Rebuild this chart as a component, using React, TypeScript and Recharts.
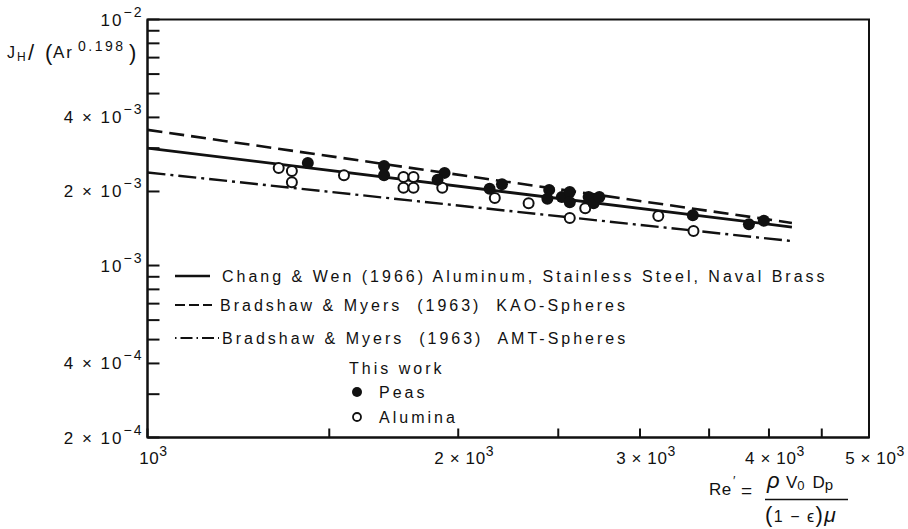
import React from "react";
import { ComposedChart, Line, Scatter, XAxis, YAxis, ReferenceArea, Legend, Label } from "recharts";

const FONT = "'Liberation Sans', Arial, sans-serif";
const INK = "#111";

// correlation lines (straight on log-log), ends
const fitRe = [1000, 4210];
const changWenJ = [3.0e-3, 1.434e-3];
const kaoJ = [3.56e-3, 1.49e-3];
const amtJ = [2.39e-3, 1.257e-3];

// this work
const peasRe = [1430, 1695, 1695, 1940, 1910, 2145, 2205, 2450, 2440, 2520, 2565, 2565, 2675, 2705, 2740, 3375, 3825, 3955];
const peasJ = [2.61e-3, 2.54e-3, 2.33e-3, 2.38e-3, 2.23e-3, 2.05e-3, 2.14e-3, 2.03e-3, 1.87e-3, 1.9e-3, 1.99e-3, 1.81e-3, 1.9e-3, 1.79e-3, 1.9e-3, 1.6e-3, 1.47e-3, 1.52e-3];
const aluminaRe = [1340, 1380, 1380, 1550, 1770, 1810, 1770, 1810, 1930, 2170, 2340, 2655, 2565, 3125, 3380];
const aluminaJ = [2.49e-3, 2.42e-3, 2.18e-3, 2.33e-3, 2.29e-3, 2.29e-3, 2.07e-3, 2.07e-3, 2.07e-3, 1.88e-3, 1.79e-3, 1.71e-3, 1.56e-3, 1.59e-3, 1.38e-3];

const xTicks = [1000, 1500, 2000, 2500, 3000, 3500, 4000, 4500, 5000];
const xTickText: [number, string, string][] = [
  [1000, "", "3"],
  [2000, "2", "3"],
  [3000, "3", "3"],
  [4000, "4", "3"],
  [5000, "5", "3"],
];
const yTicks = [2e-4, 3e-4, 4e-4, 5e-4, 6e-4, 7e-4, 8e-4, 9e-4, 1e-3, 2e-3, 3e-3, 4e-3, 5e-3, 6e-3, 7e-3, 8e-3, 9e-3, 1e-2];
const yTickText: [number, string, string][] = [
  [2e-4, "2", "−4"],
  [4e-4, "4", "−4"],
  [1e-3, "", "−3"],
  [2e-3, "2", "−3"],
  [4e-3, "4", "−3"],
  [1e-2, "", "−2"],
];

const zip = (xs: number[], ys: number[]) => xs.map((x, i) => ({ x, y: ys[i] }));
const findLabel = (list: [number, string, string][], v: number) =>
  list.find(([t]) => Math.abs(t / v - 1) < 1e-6);

function XTick(props: any) {
  const { x, y, payload } = props;
  const lab = findLabel(xTickText, payload.value);
  return (
    <g>
      <line x1={x} x2={x} y1={y} y2={y - 9} stroke={INK} strokeWidth={2} />
      {lab && (
        <text x={x + 6} y={y + 26} textAnchor="middle" fontFamily={FONT} fontSize={17} letterSpacing={0.6} fill={INK}>
          {lab[1] ? `${lab[1]} × 10` : "10"}
          <tspan dy={-8} fontSize={14}>{lab[2]}</tspan>
        </text>
      )}
    </g>
  );
}

function YTick(props: any) {
  const { x, y, payload } = props;
  const lab = findLabel(yTickText, payload.value);
  return (
    <g>
      <line x1={x} x2={x + 12} y1={y} y2={y} stroke={INK} strokeWidth={2} />
      {lab && (
        <text x={x - 4} y={y + 6} textAnchor="end" fontFamily={FONT} fontSize={17} letterSpacing={2} fill={INK}>
          {lab[1] ? `${lab[1]} × 10` : "10"}
          <tspan dy={-9} fontSize={14}>{lab[2]}</tspan>
        </text>
      )}
    </g>
  );
}

function YTitle() {
  return (
    <text y={58} fontFamily={FONT} fontSize={16} fill={INK}>
      <tspan x={7}>J</tspan>
      <tspan x={17} dy={3} fontSize={12}>H</tspan>
      <tspan x={28} dy={-1} fontSize={22}>/</tspan>
      <tspan x={45} fontSize={22}>(</tspan>
      <tspan x={53} dy={-2} fontSize={17} letterSpacing={2}>Ar</tspan>
      <tspan x={78} dy={-7} fontSize={14} letterSpacing={2.5}>0.198</tspan>
      <tspan x={129} dy={9} fontSize={22}>)</tspan>
    </text>
  );
}

function XTitle() {
  return (
    <g fontFamily={FONT} fill={INK}>
      <text x={709} y={495} fontSize={17} letterSpacing={0.5}>Re</text>
      <text x={733} y={485} fontSize={13}>′</text>
      <text x={741} y={497} fontSize={19}>=</text>
      <text x={767} y={488} fontSize={22} fontStyle="italic">ρ</text>
      <text x={786} y={488} fontSize={17}>
        V<tspan fontSize={13} dy={2}>0</tspan>
        <tspan dx={8} dy={-2}>D</tspan>
        <tspan fontSize={15} dy={2}>p</tspan>
      </text>
      <line x1={765} x2={848} y1={499.5} y2={499.5} stroke={INK} strokeWidth={1.6} />
      <text x={765} y={522} fontSize={16} letterSpacing={1.5}>
        <tspan fontSize={22}>(</tspan>1 − ϵ<tspan fontSize={22}>)</tspan>
        <tspan fontSize={21} fontStyle="italic">μ</tspan>
      </text>
    </g>
  );
}

function LegendBox() {
  const txt = { fontFamily: FONT, fontSize: 16, letterSpacing: 3, fill: INK, style: { whiteSpace: "pre" } } as const;
  return (
    <svg width={908} height={529} style={{ position: "absolute", left: 0, top: 0, overflow: "visible" }}>
      <line x1={175} x2={210} y1={276} y2={276} stroke={INK} strokeWidth={2.5} />
      <text x={222} y={282} {...txt}>Chang &amp; Wen (1966) Aluminum, Stainless Steel, Naval Brass</text>
      <line x1={175} x2={212} y1={305} y2={305} stroke={INK} strokeWidth={2} strokeDasharray="10 4" />
      <text x={220} y={311} {...txt}>{"Bradshaw & Myers  (1963)  KAO-Spheres"}</text>
      <line x1={175} x2={219} y1={338} y2={338} stroke={INK} strokeWidth={2} strokeDasharray="1.5 4 12 4" />
      <text x={222} y={344} {...txt}>{"Bradshaw & Myers  (1963)  AMT-Spheres"}</text>
      <text x={349} y={374} {...txt}>This work</text>
      <circle cx={357} cy={392} r={5} fill={INK} />
      <text x={379} y={398} {...txt}>Peas</text>
      <circle cx={357} cy={417} r={4} fill="#fff" stroke={INK} strokeWidth={1.8} />
      <text x={379} y={423} {...txt}>Alumina</text>
    </svg>
  );
}

const FilledDot = (p: any) => <circle cx={p.cx} cy={p.cy} r={6} fill={INK} />;
const OpenDot = (p: any) => <circle cx={p.cx} cy={p.cy} r={5} fill="#fff" stroke={INK} strokeWidth={2} />;

export default function App() {
  return (
    <div style={{ position: "absolute", left: 0, top: 0, background: "#fff" }}>
      <ComposedChart width={908} height={529} margin={{ top: 19.5, right: 39, bottom: 61.5, left: 87.5 }}>
        <XAxis
          type="number"
          dataKey="x"
          scale="log"
          domain={[1000, 5000]}
          allowDataOverflow
          ticks={xTicks}
          interval={0}
          height={30}
          tickSize={0}
          tickMargin={0}
          tickLine={false}
          axisLine={{ stroke: INK, strokeWidth: 2 }}
          tick={XTick}
        >
          <Label content={() => <XTitle />} />
        </XAxis>
        <YAxis
          type="number"
          dataKey="y"
          scale="log"
          domain={[2e-4, 1e-2]}
          allowDataOverflow
          ticks={yTicks}
          interval={0}
          width={60}
          tickSize={0}
          tickMargin={0}
          tickLine={false}
          axisLine={{ stroke: INK, strokeWidth: 2 }}
          tick={YTick}
        >
          <Label content={() => <YTitle />} />
        </YAxis>
        <ReferenceArea x1={1000} x2={5000} y1={2e-4} y2={1e-2} fill="none" stroke={INK} strokeWidth={2} />
        <Line data={zip(fitRe, amtJ)} dataKey="y" stroke={INK} strokeWidth={2.4} strokeDasharray="18 5 3 5" dot={false} isAnimationActive={false} />
        <Line data={zip(fitRe, kaoJ)} dataKey="y" stroke={INK} strokeWidth={2.6} strokeDasharray="15 7" dot={false} isAnimationActive={false} />
        <Line data={zip(fitRe, changWenJ)} dataKey="y" stroke={INK} strokeWidth={2.8} dot={false} isAnimationActive={false} />
        <Scatter data={zip(aluminaRe, aluminaJ)} dataKey="y" shape={OpenDot} isAnimationActive={false} />
        <Scatter data={zip(peasRe, peasJ)} dataKey="y" shape={FilledDot} isAnimationActive={false} />
        <Legend
          layout="horizontal"
          verticalAlign="middle"
          align="center"
          content={() => <LegendBox />}
          wrapperStyle={{ left: 0, top: 0, width: 908, height: 529, pointerEvents: "none" }}
        />
      </ComposedChart>
    </div>
  );
}
